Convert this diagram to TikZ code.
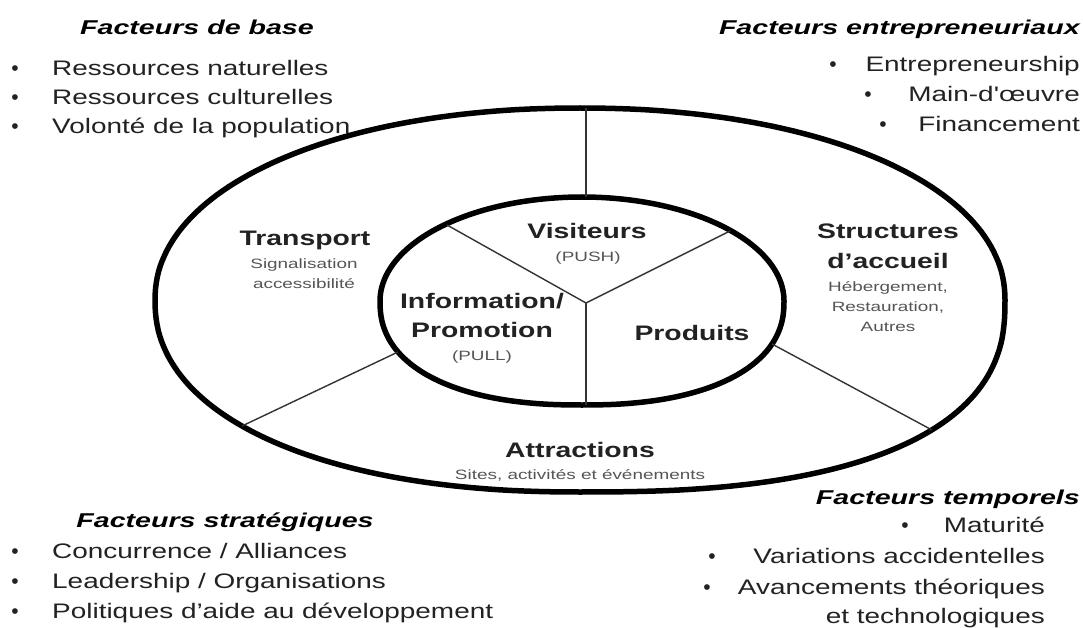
\documentclass[tikz,border=0pt]{standalone}
\usepackage{fontspec}
\setmainfont{Liberation Sans}
\newfontfamily\hdrfont[FakeStretch=1.43]{Liberation Sans}
\newfontfamily\itmfont[FakeStretch=1.33]{Liberation Sans}
\newfontfamily\lblfont[FakeStretch=1.35]{Liberation Sans}
\newfontfamily\subfont[FakeStretch=1.4]{Liberation Sans}
\definecolor{txt}{HTML}{222222}
\definecolor{subgrey}{HTML}{555555}
\begin{document}
\begin{tikzpicture}[x=1pt,y=-1pt,
  hdr/.style={inner sep=0pt, font=\hdrfont\bfseries\itshape\fontsize{20}{22}\selectfont, text=black},
  itm/.style={inner sep=0pt, font=\itmfont\fontsize{21}{24}\selectfont, text=txt},
  bul/.style={inner sep=0pt, font=\fontsize{21}{24}\selectfont, text=txt},
  lbl/.style={inner sep=0pt, font=\lblfont\bfseries\fontsize{21}{24}\selectfont, text=txt},
  sub/.style={inner sep=0pt, font=\subfont\fontsize{13.5}{15}\selectfont, text=subgrey},
  ring/.style={line width=5.5pt, line join=round},
  div/.style={line width=1.4pt, draw=black!80}]
\useasboundingbox (0,0) rectangle (1083,628);
\fill[white] (0,0) rectangle (1083,628);

% outer ring
\draw[ring]
  plot[domain=0:90,samples=60] ({580+425*pow(abs(cos(\x))+0.00001,2/2.5)},{300+192*pow(abs(sin(\x))+0.00001,2/2.5)})
  -- plot[domain=90:180,samples=60] ({580-425*pow(abs(cos(\x))+0.00001,2/2.2)},{300+192*pow(abs(sin(\x))+0.00001,2/2.2)})
  -- plot[domain=180:270,samples=60] ({580-425*pow(abs(cos(\x))+0.00001,2/2.1)},{300-192*pow(abs(sin(\x))+0.00001,2/2.1)})
  -- plot[domain=270:360,samples=60] ({580+425*pow(abs(cos(\x))+0.00001,2/2.1)},{300-192*pow(abs(sin(\x))+0.00001,2/2.1)})
  -- cycle;
% inner ring
\draw[ring]
  plot[domain=0:90,samples=60] ({582+202*pow(abs(cos(\x))+0.00001,2/2.3)},{301+104*pow(abs(sin(\x))+0.00001,2/2.3)})
  -- plot[domain=90:180,samples=60] ({582-202*pow(abs(cos(\x))+0.00001,2/2.3)},{301+104*pow(abs(sin(\x))+0.00001,2/2.3)})
  -- plot[domain=180:270,samples=60] ({582-202*pow(abs(cos(\x))+0.00001,2/2.0)},{301-104*pow(abs(sin(\x))+0.00001,2/2.0)})
  -- plot[domain=270:360,samples=60] ({582+202*pow(abs(cos(\x))+0.00001,2/2.0)},{301-104*pow(abs(sin(\x))+0.00001,2/2.0)})
  -- cycle;

% divider coordinates
\coordinate (Yc) at (586,303);
\coordinate (vTopIn) at (586,197);
\coordinate (vTopOut) at (586,108);
\coordinate (yUL) at (447,225);
\coordinate (yUR) at (730,231);
\coordinate (yB) at (586,405);
\coordinate (lInL) at (398,352);
\coordinate (lOutL) at (242,426);
\coordinate (lInR) at (772,344);
\coordinate (lOutR) at (932,430);
\draw[div] (vTopIn) -- (vTopOut);
\draw[div] (Yc) -- (yUL);
\draw[div] (Yc) -- (yUR);
\draw[div] (Yc) -- (yB);
\draw[div] (lInL) -- (lOutL);
\draw[div] (lInR) -- (lOutR);

% headers
\node[hdr, anchor=base] (hBase) at (197,35) {Facteurs de base};
\node[hdr, anchor=base east] (hEnt) at (1080,35) {Facteurs entrepreneuriaux};
\node[hdr, anchor=base] (hStr) at (225,527) {Facteurs stratégiques};
\node[hdr, anchor=base east] (hTmp) at (1080,504) {Facteurs temporels};

% base factors
\node[bul, anchor=base] (bB1) at (15,76) {•};
\node[itm, anchor=base west] (iB1) at (52,76) {Ressources naturelles};
\node[bul, anchor=base] (bB2) at (15,105) {•};
\node[itm, anchor=base west] (iB2) at (52,105) {Ressources culturelles};
\node[bul, anchor=base] (bB3) at (15,134) {•};
\node[itm, anchor=base west] (iB3) at (52,134) {Volonté de la population};

% entrepreneurial factors
\node[bul, anchor=base] (bE1) at (833,72) {•};
\node[itm, anchor=base east] (iE1) at (1080,72) {Entrepreneurship};
\node[bul, anchor=base] (bE2) at (868,102) {•};
\node[itm, anchor=base east] (iE2) at (1080,102) {Main-d'œuvre};
\node[bul, anchor=base] (bE3) at (883,132) {•};
\node[itm, anchor=base east] (iE3) at (1080,132) {Financement};

% strategic factors
\node[bul, anchor=base] (bS1) at (15,558) {•};
\node[itm, anchor=base west] (iS1) at (52,558) {Concurrence / Alliances};
\node[bul, anchor=base] (bS2) at (15,588) {•};
\node[itm, anchor=base west] (iS2) at (52,588) {Leadership / Organisations};
\node[bul, anchor=base] (bS3) at (15,618) {•};
\node[itm, anchor=base west] (iS3) at (52,618) {Politiques d’aide au développement};

% temporal factors
\node[bul, anchor=base] (bT1) at (905,532) {•};
\node[itm, anchor=base east] (iT1) at (1045,532) {Maturité};
\node[bul, anchor=base] (bT2) at (712,563) {•};
\node[itm, anchor=base east] (iT2) at (1045,563) {Variations accidentelles};
\node[bul, anchor=base] (bT3) at (707,594) {•};
\node[itm, anchor=base east] (iT3) at (1045,594) {Avancements théoriques};
\node[itm, anchor=base east] (iT4) at (1045,623) {et technologiques};

% ring labels
\node[lbl, anchor=base] (transport) at (305,245) {Transport};
\node[sub, anchor=base] (transportA) at (304,268) {Signalisation};
\node[sub, anchor=base] (transportB) at (304,288) {accessibilité};

\node[lbl, anchor=base] (visiteurs) at (587,238) {Visiteurs};
\node[sub, anchor=base] (push) at (588,261) {(PUSH)};

\node[lbl, anchor=base] (info) at (482,308) {Information/};
\node[lbl, anchor=base] (promo) at (482,337) {Promotion};
\node[sub, anchor=base] (pull) at (482,360) {(PULL)};

\node[lbl, anchor=base] (produits) at (692,340) {Produits};

\node[lbl, anchor=base] (structA) at (888,239) {Structures};
\node[lbl, anchor=base] (structB) at (888,269) {d’accueil};
\node[sub, anchor=base] (structC) at (888,291) {Hébergement,};
\node[sub, anchor=base] (structD) at (888,311) {Restauration,};
\node[sub, anchor=base] (structE) at (888,331) {Autres};

\node[lbl, anchor=base] (attr) at (580,457) {Attractions};
\node[sub, anchor=base] (attrB) at (580,479) {Sites, activités et événements};
\end{tikzpicture}
\end{document}
